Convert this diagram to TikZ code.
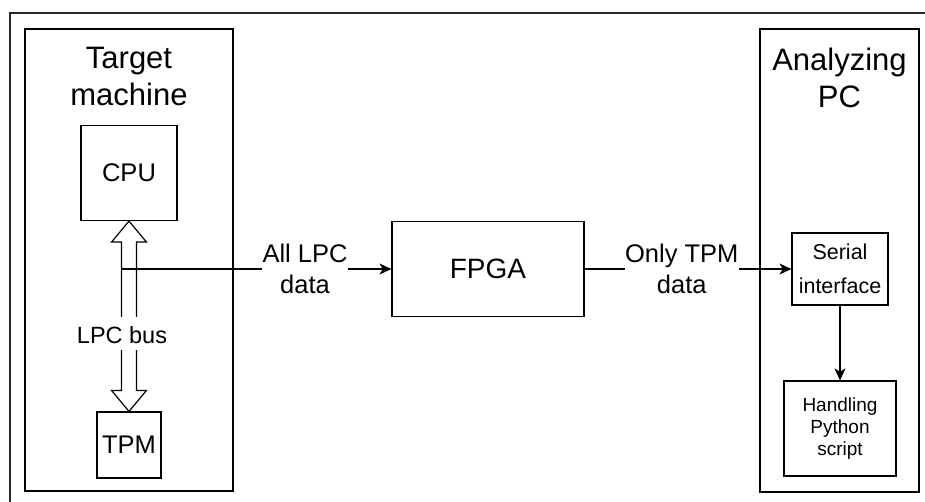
\documentclass[tikz,border=0pt]{standalone}
\usepackage{fontspec}
\setmainfont{Liberation Sans}
\usepackage{tikz}
\usetikzlibrary{arrows.meta, positioning, calc}

\begin{document}
\begin{tikzpicture}[
    x=1pt, y=-1pt,
    % 1. BASE STYLES: thin black outlines, sans font
    base/.style={draw=black, line width=1.2pt, align=center, inner sep=0pt},
    container/.style={base, minimum width=208pt, minimum height=462pt},
    box/.style={base, fill=white},
    % 2. TEXT
    title/.style={align=center, inner sep=0pt, font=\fontsize{31}{37}\selectfont},
    tag/.style={fill=white, align=center, inner xsep=0.5pt, inner ysep=1pt,
        font=\fontsize{25.5}{31}\selectfont},
    % 3. CONNECTORS
    arrow/.style={-{Stealth[length=12pt, width=11pt, inset=3.5pt]}, line width=1.2pt},
    fatarrow/.style={draw=black, fill=white, line width=1.2pt, line join=miter}
]
    \useasboundingbox (0,0) rectangle (925,502);

    % --- OUTER FRAME (cut by the page) ---
    \begin{scope}
        \clip (0,0) rectangle (925,502);
        \draw[black!85, line width=1.2pt] (10,13) rectangle (980,560);
    \end{scope}

    % --- CONTAINERS ---
    \node[container] (target) at (129, 260) {};
    \node[container, minimum width=159pt, minimum height=463pt] (analyzing) at (839.5, 260.5) {};
    \node[title, anchor=north] (targettitle) at ($(target.north)+(0,19)$) {Target\\machine};
    \node[title, anchor=north] (analyzingtitle) at ($(analyzing.north)+(0,19)$) {Analyzing\\PC};

    % --- TARGET MACHINE ---
    \node[box, minimum width=96pt, minimum height=95pt, font=\fontsize{25.5}{31}\selectfont]
        (cpu) at (129, 173) {CPU};
    \node[box, minimum width=64pt, minimum height=66pt, font=\fontsize{25.5}{31}\selectfont]
        (tpm) at (129, 445) {TPM};

    % --- FPGA ---
    \node[box, minimum width=192pt, minimum height=95pt, font=\fontsize{28}{34}\selectfont]
        (fpga) at (488, 269) {FPGA};

    % --- ANALYZING PC ---
    \node[box, minimum width=96pt, minimum height=72pt, font=\fontsize{21.5}{34}\selectfont]
        (serial) at (840, 269) {Serial\\interface};
    \node[box, minimum width=112pt, minimum height=95pt, font=\fontsize{19}{22}\selectfont]
        (handling) at (840, 428.5) {Handling\\Python\\script};

    % --- LPC BUS (hollow double arrow) ---
    \path (cpu.south) ++(0,21) coordinate (hu)
          (tpm.north) ++(0,-21) coordinate (hd);
    \draw[fatarrow] (cpu.south) -- ($(hu)+(17.5,0)$) -- ($(hu)+(7.5,0)$)
        -- ($(hd)+(7.5,0)$) -- ($(hd)+(17.5,0)$) -- (tpm.north)
        -- ($(hd)+(-17.5,0)$) -- ($(hd)+(-7.5,0)$)
        -- ($(hu)+(-7.5,0)$) -- ($(hu)+(-17.5,0)$) -- cycle;
    \coordinate (tap) at (121.5, 269);

    % --- DATA FLOW ---
    \draw[arrow] (tap) -- node[tag, pos=0.68] {All LPC\\data} (fpga.west);
    \draw[arrow] (fpga.east) -- node[tag, pos=0.47] {Only TPM\\data} (serial.west);
    \draw[arrow] (serial.south) -- (handling.north);

    \node[fill=white, inner xsep=0.5pt, inner ysep=1pt, text height=25pt, text depth=6pt,
        font=\fontsize{23.5}{28}\selectfont] (lpcbus) at (122, 333.5) {LPC bus};

\end{tikzpicture}
\end{document}
